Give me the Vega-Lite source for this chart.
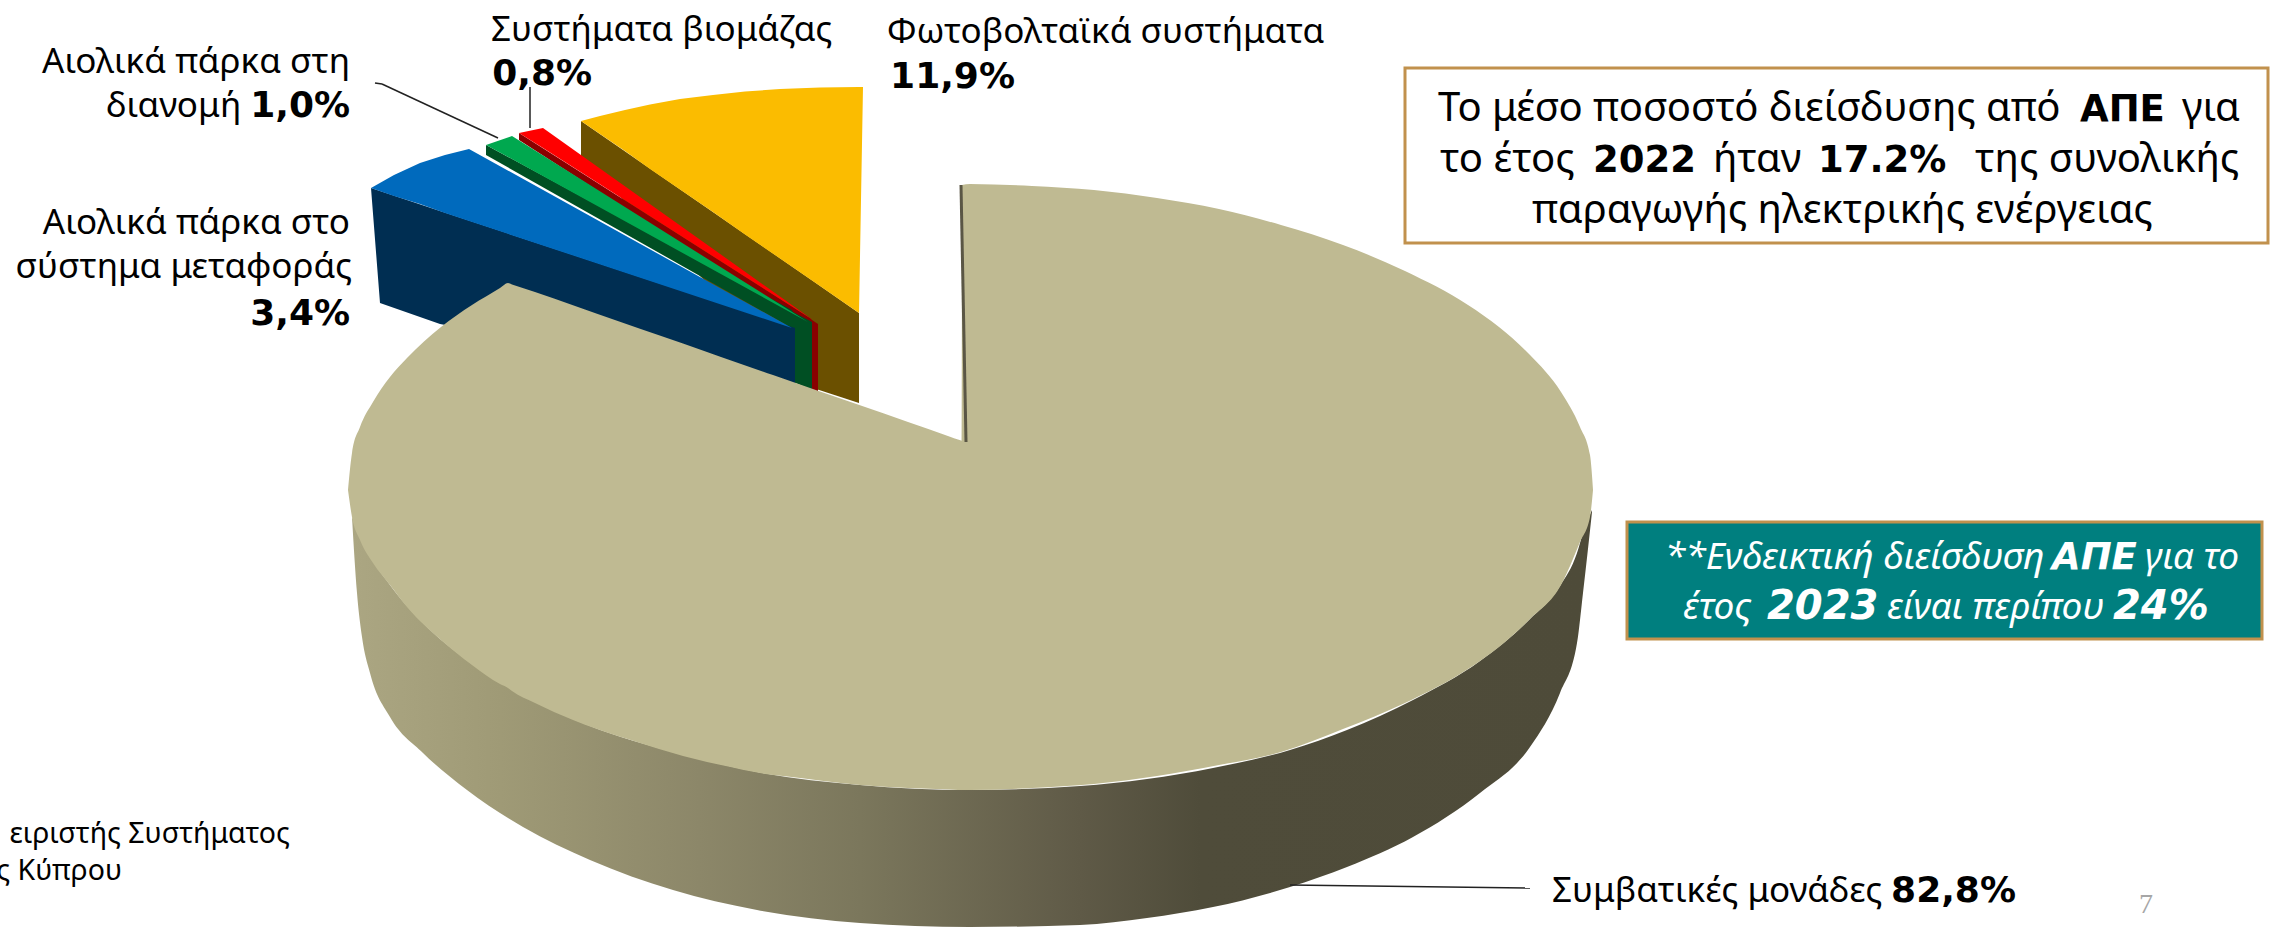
{"$schema":"https://vega.github.io/schema/vega-lite/v6.json","width":2274,"height":927,"padding":0,"autosize":{"type":"none"},"background":"white","config":{"view":{"stroke":null}},
"datasets":{
"side":[{"x":352,"y":517,"y2":517},{"x":357,"y":528,"y2":593},{"x":362,"y":538,"y2":637},{"x":370,"y":555,"y2":673},{"x":390,"y":585,"y2":717},{"x":423,"y":623,"y2":753},{"x":467,"y":660,"y2":790},{"x":523,"y":695,"y2":827},{"x":590,"y":726,"y2":860},{"x":673,"y":752,"y2":890},{"x":757,"y":772,"y2":910},{"x":860,"y":785,"y2":923},{"x":970,"y":790,"y2":927},{"x":1080,"y":786,"y2":925},{"x":1147,"y":779,"y2":918},{"x":1213,"y":768,"y2":907},{"x":1290,"y":750,"y2":887},{"x":1347,"y":730,"y2":867},{"x":1413,"y":700,"y2":837},{"x":1480,"y":661,"y2":793},{"x":1530,"y":619,"y2":747},{"x":1560,"y":586,"y2":693},{"x":1577,"y":553,"y2":643},{"x":1583,"y":533,"y2":593},{"x":1592,"y":510,"y2":512}],
"conventional":[{"x":348,"y":490,"y2":490},{"x":352,"y":453,"y2":517},{"x":360,"y":427,"y2":540},{"x":373,"y":402,"y2":563},{"x":390,"y":377,"y2":585},{"x":407,"y":358,"y2":607},{"x":441,"y":327,"y2":640},{"x":472,"y":305,"y2":665},{"x":500,"y":288,"y2":684},{"x":508,"y":283,"y2":688},{"x":512,"y":284.4,"y2":691},{"x":535,"y":292,"y2":703},{"x":573,"y":305.3,"y2":720},{"x":597,"y":313.7,"y2":729},{"x":640,"y":328.7,"y2":743},{"x":659,"y":335.3,"y2":749},{"x":707,"y":352,"y2":762},{"x":721,"y":357,"y2":765},{"x":773,"y":375,"y2":775},{"x":783,"y":378.5,"y2":776},{"x":860,"y":405.3,"y2":785},{"x":908,"y":422,"y2":788},{"x":950,"y":436.7,"y2":789.6},{"x":958,"y":439.5,"y2":790},{"x":961,"y":440.5,"y2":790},{"x":962,"y":441,"y2":790},{"x":962.01,"y":185,"y2":790},{"x":970,"y":184,"y2":790},{"x":1032,"y":186,"y2":788},{"x":1094,"y":190,"y2":784},{"x":1157,"y":198,"y2":776},{"x":1219,"y":209,"y2":765},{"x":1281,"y":225,"y2":752},{"x":1343,"y":245,"y2":729},{"x":1405,"y":271,"y2":703},{"x":1468,"y":305,"y2":669},{"x":1499,"y":327,"y2":647},{"x":1530,"y":355,"y2":619},{"x":1561,"y":392,"y2":585},{"x":1580,"y":427,"y2":542},{"x":1590,"y":455,"y2":517},{"x":1593,"y":490,"y2":490}],
"pvSide":[{"x":581,"y":121,"y2":158},{"x":813,"y":281,"y2":388},{"x":859,"y":313,"y2":403}],
"pv":[{"x":581,"y":121,"y2":121},{"x":600,"y":116,"y2":134},{"x":625,"y":110,"y2":151},{"x":650,"y":104.5,"y2":169},{"x":680,"y":99,"y2":189.5},{"x":713,"y":95,"y2":212},{"x":745,"y":91.5,"y2":234.5},{"x":780,"y":89,"y2":258.5},{"x":820,"y":87.5,"y2":286},{"x":859,"y":87,"y2":313},{"x":863,"y":87,"y2":87}],
"bioSide":[{"x":519,"y":133,"y2":140},{"x":810,"y":318,"y2":328},{"x":812,"y":320,"y2":390},{"x":818,"y":324,"y2":392}],
"bio":[{"x":519,"y":133,"y2":133},{"x":543,"y":128,"y2":148},{"x":813,"y":320,"y2":320}],
"distSide":[{"x":486,"y":145,"y2":155},{"x":792,"y":310,"y2":328},{"x":793,"y":312,"y2":382},{"x":812,"y":322,"y2":390}],
"dist":[{"x":486,"y":145,"y2":145},{"x":512,"y":136,"y2":159},{"x":808,"y":322,"y2":322}],
"transSide":[{"x":371,"y":188,"y2":188},{"x":380,"y":191,"y2":303},{"x":440,"y":211,"y2":324},{"x":795,"y":328,"y2":390}],
"trans":[{"x":371,"y":188,"y2":188},{"x":394,"y":175,"y2":196},{"x":420,"y":163,"y2":204},{"x":445,"y":155,"y2":213},{"x":469,"y":149,"y2":221},{"x":792,"y":328,"y2":328}],
"edge":[{"x":961,"y":185,"x2":966,"y2":442}],
"leaders":[{"x":375,"y":83,"x2":382,"y2":84},{"x":382,"y":84,"x2":498,"y2":138},{"x":530,"y":87,"x2":530,"y2":128},{"x":1290,"y":885,"x2":1530,"y2":888}],
"boxWhite":[{"x":1405,"y":68,"x2":2268,"y2":243}],
"boxTeal":[{"x":1627,"y":522,"x2":2262,"y2":639}],
"labelRight":[{"text":"Αιολικά πάρκα στη","x":350,"y":73},{"text":"Αιολικά πάρκα στο","x":350,"y":234},{"text":"σύστημα μεταφοράς","x":352,"y":278}],
"labelLeft":[{"text":"διανομή","x":106,"y":117},{"text":"Συστήματα βιομάζας","x":491,"y":41},{"text":"Φωτοβολταϊκά συστήματα","x":887,"y":43},{"text":"Συμβατικές μονάδες","x":1552,"y":902}],
"labelBold":[{"text":"1,0%","x":350,"y":117},{"text":"3,4%","x":350,"y":325},{"text":"0,8%","x":592,"y":85},{"text":"11,9%","x":1015,"y":88},{"text":"82,8%","x":2016,"y":902}],
"boxText":[{"text":"Το μέσο ποσοστό διείσδυσης από","x":1438,"y":121},{"text":"για","x":2182,"y":121},{"text":"το έτος","x":1440,"y":172},{"text":"ήταν","x":1713,"y":172},{"text":"της συνολικής","x":1975,"y":172},{"text":"παραγωγής ηλεκτρικής ενέργειας","x":1532,"y":223}],
"boxBold":[{"text":"ΑΠΕ","x":2080,"y":121},{"text":"2022","x":1593,"y":172},{"text":"17.2%","x":1818,"y":172}],
"tealText":[{"text":"**Ενδεικτική διείσδυση","x":1665,"y":569},{"text":"για το","x":2145,"y":569},{"text":"έτος","x":1683,"y":619},{"text":"είναι περίπου","x":1887,"y":619}],
"tealBold":[{"text":"ΑΠΕ","x":2052,"y":569}],
"tealNumbers":[{"text":"2023","x":1767,"y":619},{"text":"24%","x":2113,"y":619}],
"note":[{"text":"ειριστής Συστήματος","x":290,"y":843},{"text":"ς Κύπρου","x":122,"y":880}],
"page":[{"text":"7","x":2139,"y":913}]
},
"encoding":{"x":{"field":"x","type":"quantitative","scale":{"domain":[0,2274],"nice":false,"zero":false},"axis":null},"y":{"field":"y","type":"quantitative","scale":{"domain":[927,0],"nice":false,"zero":false},"axis":null,"stack":null}},
"layer":[
{"data":{"name":"pvSide"},"mark":{"type":"area","orient":"vertical","color":"#6B5000"},"encoding":{"y2":{"field":"y2"}}},
{"data":{"name":"pv"},"mark":{"type":"area","orient":"vertical","color":"#FBBC00"},"encoding":{"y2":{"field":"y2"}}},
{"data":{"name":"bioSide"},"mark":{"type":"area","orient":"vertical","color":"#8A0000"},"encoding":{"y2":{"field":"y2"}}},
{"data":{"name":"bio"},"mark":{"type":"area","orient":"vertical","color":"#FF0000"},"encoding":{"y2":{"field":"y2"}}},
{"data":{"name":"distSide"},"mark":{"type":"area","orient":"vertical","color":"#004F23"},"encoding":{"y2":{"field":"y2"}}},
{"data":{"name":"dist"},"mark":{"type":"area","orient":"vertical","color":"#00A84F"},"encoding":{"y2":{"field":"y2"}}},
{"data":{"name":"transSide"},"mark":{"type":"area","orient":"vertical","color":"#002E52"},"encoding":{"y2":{"field":"y2"}}},
{"data":{"name":"trans"},"mark":{"type":"area","orient":"vertical","color":"#006ABD"},"encoding":{"y2":{"field":"y2"}}},
{"data":{"name":"side"},"mark":{"type":"area","orient":"vertical","interpolate":"monotone","color":{"gradient":"linear","x1":0,"x2":1,"y1":0,"y2":0,"stops":[{"offset":0,"color":"#ABA682"},{"offset":0.12,"color":"#9F9A76"},{"offset":0.28,"color":"#8C8769"},{"offset":0.41,"color":"#7B775C"},{"offset":0.587,"color":"#5F5A47"},{"offset":0.684,"color":"#4F4C3A"},{"offset":1,"color":"#4E4B39"}]}},"encoding":{"y2":{"field":"y2"}}},
{"data":{"name":"conventional"},"mark":{"type":"area","orient":"vertical","interpolate":"monotone","color":"#BFBA92"},"encoding":{"y2":{"field":"y2"}}},
{"data":{"name":"edge"},"mark":{"type":"rule","color":"#5A5645","strokeWidth":3},"encoding":{"x2":{"field":"x2"},"y2":{"field":"y2"}}},
{"data":{"name":"leaders"},"mark":{"type":"rule","color":"#222222","strokeWidth":1.5},"encoding":{"x2":{"field":"x2"},"y2":{"field":"y2"}}},
{"data":{"name":"boxWhite"},"mark":{"type":"rect","fill":"white","stroke":"#C1914D","strokeWidth":3},"encoding":{"x2":{"field":"x2"},"y2":{"field":"y2"}}},
{"data":{"name":"boxTeal"},"mark":{"type":"rect","fill":"#007F7F","stroke":"#C1914D","strokeWidth":3},"encoding":{"x2":{"field":"x2"},"y2":{"field":"y2"}}},
{"data":{"name":"labelRight"},"mark":{"type":"text","font":"Noto Sans","fontSize":35,"align":"right","baseline":"alphabetic","color":"#000000"},"encoding":{"text":{"field":"text"}}},
{"data":{"name":"labelLeft"},"mark":{"type":"text","font":"Noto Sans","fontSize":35,"align":"left","baseline":"alphabetic","color":"#000000"},"encoding":{"text":{"field":"text"}}},
{"data":{"name":"labelBold"},"mark":{"type":"text","font":"DejaVu Sans","fontSize":36,"fontWeight":"bold","align":"right","baseline":"alphabetic","color":"#000000"},"encoding":{"text":{"field":"text"}}},
{"data":{"name":"boxText"},"mark":{"type":"text","font":"Noto Sans","fontSize":40,"align":"left","baseline":"alphabetic","color":"#000000"},"encoding":{"text":{"field":"text"}}},
{"data":{"name":"boxBold"},"mark":{"type":"text","font":"DejaVu Sans","fontSize":37,"fontWeight":"bold","align":"left","baseline":"alphabetic","color":"#000000"},"encoding":{"text":{"field":"text"}}},
{"data":{"name":"tealText"},"mark":{"type":"text","font":"Noto Sans","fontSize":37,"fontStyle":"italic","align":"left","baseline":"alphabetic","color":"#FFFFFF"},"encoding":{"text":{"field":"text"}}},
{"data":{"name":"tealBold"},"mark":{"type":"text","font":"DejaVu Sans","fontSize":37,"fontStyle":"italic","fontWeight":"bold","align":"left","baseline":"alphabetic","color":"#FFFFFF"},"encoding":{"text":{"field":"text"}}},
{"data":{"name":"tealNumbers"},"mark":{"type":"text","font":"DejaVu Sans","fontSize":40,"fontStyle":"italic","fontWeight":"bold","align":"left","baseline":"alphabetic","color":"#FFFFFF"},"encoding":{"text":{"field":"text"}}},
{"data":{"name":"note"},"mark":{"type":"text","font":"Noto Sans","fontSize":28.5,"align":"right","baseline":"alphabetic","color":"#000000"},"encoding":{"text":{"field":"text"}}},
{"data":{"name":"page"},"mark":{"type":"text","font":"Liberation Serif","fontSize":28,"align":"left","baseline":"alphabetic","color":"#A6A6A6"},"encoding":{"text":{"field":"text"}}}
]}
